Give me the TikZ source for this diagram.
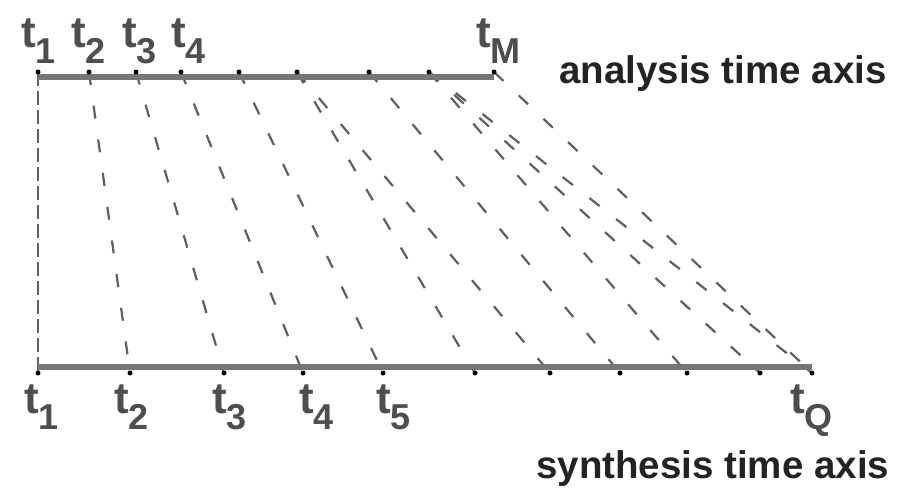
\documentclass[tikz,border=0pt]{standalone}
\usepackage{fontspec}
\setmainfont{Liberation Sans}
\definecolor{axisgray}{RGB}{118,118,118}
\definecolor{dashgray}{RGB}{95,95,95}
\definecolor{labgray}{RGB}{78,78,78}
\definecolor{textdark}{RGB}{35,35,35}
\newcommand{\tlab}[1]{t\raisebox{-16pt}{\fontsize{36}{36}\selectfont #1}}
\begin{document}
\begin{tikzpicture}[x=1pt,y=-1pt,
  dot/.style={circle,fill=black,inner sep=0pt,minimum size=5pt},
  hop/.style={draw=dashgray,line width=2.2pt,dash pattern=on 13pt off 21pt},
  firsthop/.style={draw=dashgray,line width=1.3pt,dash pattern=on 14pt off 5pt},
  axisline/.style={draw=axisgray,line width=6.5pt},
  tl/.style={anchor=base west,inner sep=0pt,text=labgray,font=\fontsize{44}{44}\selectfont\bfseries},
  axlab/.style={anchor=base west,inner sep=0pt,text=textdark,font=\fontsize{38.5}{40}\selectfont\bfseries}]
\useasboundingbox (0,0) rectangle (901,488);
\fill[white] (0,0) rectangle (901,488);
% analysis points
\foreach \n/\x in {1/38,2/89,3/136,4/181,5/239,6/297,7/369,8/429,9/494}
  \coordinate (a\n) at (\x,72);
% synthesis points
\foreach \n/\x in {1/38,2/130,3/224,4/303,5/383,6/475,7/550,8/620,9/687,10/760,11/812}
  \coordinate (s\n) at (\x,373);
% mappings
\draw[firsthop] (a1) -- (s1);
\foreach \a/\s in {2/2,3/3,4/4,5/5,6/6,6/7,7/8,8/9,8/10,8/11,9/11}
  \draw[hop] (a\a) -- (s\s);
% axes
\draw[axisline] ([yshift=-5pt]a1) -- ([yshift=-5pt]a9);
\draw[axisline] ([yshift=6pt]s1) -- ([yshift=6pt]s11);
% dots
\foreach \n in {1,...,9} \node[dot] (da\n) at (a\n) {};
\foreach \n in {1,...,11} \node[dot] (ds\n) at (s\n) {};
% labels top
\node[tl] (lt1) at (21,47) {\tlab{1}};
\node[tl] (lt2) at (71,47) {\tlab{2}};
\node[tl] (lt3) at (122,47) {\tlab{3}};
\node[tl] (lt4) at (171,47) {\tlab{4}};
\node[tl] (ltM) at (476,47) {\tlab{M}};
% labels bottom
\node[tl] (lb1) at (24,413) {\tlab{1}};
\node[tl] (lb2) at (114,413) {\tlab{2}};
\node[tl] (lb3) at (212,413) {\tlab{3}};
\node[tl] (lb4) at (299,413) {\tlab{4}};
\node[tl] (lb5) at (376,413) {\tlab{5}};
\node[tl] (lbQ) at (790,413) {\tlab{Q}};
% axis names
\node[axlab] (ana) at (559,83) {analysis time axis};
\node[axlab] (syn) at (536,478) {synthesis time axis};
\end{tikzpicture}
\end{document}
